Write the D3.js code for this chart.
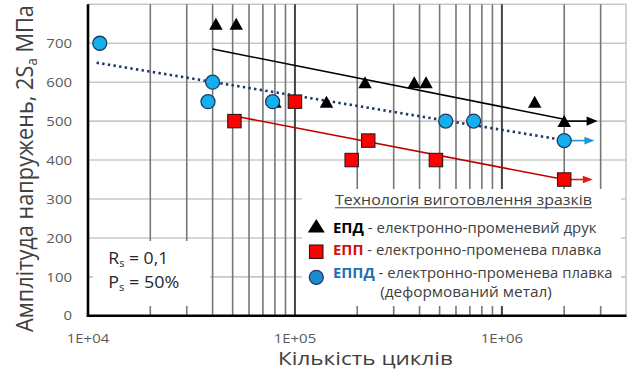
<!DOCTYPE html>
<html>
<head>
<meta charset="utf-8">
<script src="https://cdn.jsdelivr.net/npm/d3@7"></script>
<style>
  html, body { margin: 0; padding: 0; background: #fff; }
  svg { display: block; font-family: "Open Sans", "Noto Sans", sans-serif; }
</style>
</head>
<body>
<svg id="chart" width="627" height="378"></svg>
<script>
// Fatigue test results: stress amplitude vs. number of cycles
const epdN   = [4.15e4, 5.2e4, 8.0e4, 1.42e5, 2.18e5, 3.77e5, 4.3e5, 1.44e6, 2e6];
const epdS   = [750, 750, 550, 550, 600, 600, 600, 550, 500];
const eppN   = [5.1e4, 1e5, 1.88e5, 2.26e5, 4.8e5, 2e6];
const eppS   = [500, 550, 400, 450, 400, 350];
const eppdN  = [1.14e4, 3.8e4, 4e4, 7.8e4, 5.35e5, 7.3e5, 2e6];
const eppdS  = [700, 550, 600, 550, 500, 500, 450];

// Fitted trend lines (end points)
const epdTrendN  = [4e4, 2e6];   const epdTrendS  = [685, 505];
const eppTrendN  = [5e4, 2e6];   const eppTrendS  = [514, 350];
const eppdTrendN = [1.1e4, 2e6]; const eppdTrendS = [650, 451];

// Run-out specimens (no failure) shown with arrows
const runoutN   = [2e6, 2e6, 2e6];
const runoutS   = [500, 350, 450];
const runoutTip = [2.9e6, 2.75e6, 2.8e6];
const runoutColor = ["#000000", "#e31a1c", "#2394d6"];

const yTicks = [0, 100, 200, 300, 400, 500, 600, 700];
const yGrid  = [100, 200, 300, 400, 500, 600, 700];
const xMajor = [1e4, 1e5, 1e6];
const xLabels = ["1E+04", "1E+05", "1E+06"];
const xMinor = [2e4,3e4,4e4,5e4,6e4,7e4,8e4,9e4,2e5,3e5,4e5,5e5,6e5,7e5,8e5,9e5,2e6,3e6];

const svg = d3.select("#chart");
const x = d3.scaleLog().domain([1e4, 4e6]).range([88, 626.5]);
const y = d3.scaleLinear().domain([0, 800]).range([315.8, 4.3]);

const gGrid = svg.append("g");
// horizontal grid
gGrid.selectAll(".hg").data(yGrid).join("line")
  .attr("x1", x(1e4)).attr("x2", x(4e6))
  .attr("y1", d => y(d)).attr("y2", d => y(d))
  .attr("stroke", "#c8c8c8").attr("stroke-width", 1.6);
// frame top / right
gGrid.append("line").attr("x1", x(1e4)).attr("x2", x(4e6)).attr("y1", y(800)).attr("y2", y(800))
  .attr("stroke", "#c8c8c8").attr("stroke-width", 1.6);
gGrid.append("line").attr("x1", 626).attr("x2", 626).attr("y1", y(800)).attr("y2", y(0))
  .attr("stroke", "#c8c8c8").attr("stroke-width", 1.6);
// vertical grid
gGrid.selectAll(".vm").data(xMinor).join("line")
  .attr("x1", d => x(d)).attr("x2", d => x(d))
  .attr("y1", y(800)).attr("y2", y(0))
  .attr("stroke", "#777").attr("stroke-width", 1.6);
gGrid.selectAll(".vM").data(xMajor.slice(1)).join("line")
  .attr("x1", d => x(d)).attr("x2", d => x(d))
  .attr("y1", y(800)).attr("y2", y(0))
  .attr("stroke", "#444").attr("stroke-width", 2);

// white boxes behind annotations
svg.append("rect").attr("x", 93).attr("y", 241).attr("width", 117).attr("height", 65).attr("fill", "#fff");
svg.append("rect").attr("x", 302).attr("y", 189).attr("width", 319).attr("height", 117).attr("fill", "#fff");

// axes
svg.append("line").attr("x1", x(1e4)).attr("x2", x(1e4)).attr("y1", y(800)).attr("y2", y(0) + 1.2)
  .attr("stroke", "#000").attr("stroke-width", 2.6);
svg.append("line").attr("x1", x(1e4) - 1.2).attr("x2", x(4e6)).attr("y1", y(0)).attr("y2", y(0))
  .attr("stroke", "#000").attr("stroke-width", 2.6);

// helper: scale a text horizontally to a target width
function fit(sel, tx, ty, width, rotate) {
  const w = sel.node().getBBox().width;
  const s = width / w;
  sel.attr("transform", `translate(${tx},${ty})${rotate ? " rotate(-90)" : ""} scale(${s},1)`);
  return sel;
}
function stretch(sel, tx, ty, s) {
  sel.attr("transform", `translate(${tx},${ty}) scale(${s},1)`);
}

// tick labels
yTicks.forEach(v => {
  const t = svg.append("text").text(v).attr("font-size", 13).attr("fill", "#595959")
    .attr("text-anchor", "end").attr("dy", "0.36em");
  stretch(t, 72, y(v), 1.15);
});
xMajor.forEach((v, i) => {
  const t = svg.append("text").text(xLabels[i]).attr("font-size", 13).attr("fill", "#595959")
    .attr("text-anchor", "middle");
  stretch(t, x(v), 342.5, 1.15);
});

// axis titles
const xt = svg.append("text").text("Кількість циклів").attr("font-size", 17.5).attr("fill", "#404040")
  .attr("text-anchor", "middle");
fit(xt, 365.5, 365, 175, false);

const yt = svg.append("text").attr("font-size", 24.5).attr("fill", "#404040").attr("text-anchor", "middle");
yt.append("tspan").text("Амплітуда напружень, 2S");
yt.append("tspan").text("a").attr("font-size", 15).attr("dy", 4);
yt.append("tspan").text("  МПа").attr("dy", -4);
fit(yt, 33, 168.5, 327, true);

// trend lines
const line = d3.line().x(d => x(d[0])).y(d => y(d[1]));
svg.append("path").attr("d", line(d3.zip(eppdTrendN, eppdTrendS)))
  .attr("fill", "none").attr("stroke", "#1f3864").attr("stroke-width", 2.6)
  .attr("stroke-dasharray", "2.4,3.3");
svg.append("path").attr("d", line(d3.zip(epdTrendN, epdTrendS)))
  .attr("fill", "none").attr("stroke", "#000").attr("stroke-width", 1.5);
svg.append("path").attr("d", line(d3.zip(eppTrendN, eppTrendS)))
  .attr("fill", "none").attr("stroke", "#c00000").attr("stroke-width", 1.6);

// run-out arrows
runoutN.forEach((n, i) => {
  const x0 = x(n), x1 = x(runoutTip[i]), yy = y(runoutS[i]);
  const c = runoutColor[i];
  const hl = i === 0 ? 11 : 10, hw = i === 0 ? 4.6 : 3.8;
  svg.append("line").attr("x1", x0).attr("x2", x1 - hl + 1).attr("y1", yy).attr("y2", yy)
    .attr("stroke", c).attr("stroke-width", 1.6);
  svg.append("path").attr("d", `M${x1},${yy}L${x1 - hl},${yy - hw}L${x1 - hl},${yy + hw}Z`).attr("fill", c);
});

// markers
const tri = (cx, cy, w, h) => `M${cx},${cy - h / 2}L${cx + w / 2},${cy + h / 2}L${cx - w / 2},${cy + h / 2}Z`;
svg.selectAll(".tri").data(d3.zip(epdN, epdS)).join("path")
  .attr("d", d => tri(x(d[0]), y(d[1]), 13.5, 12)).attr("fill", "#000");
svg.selectAll(".sq").data(d3.zip(eppN, eppS)).join("rect")
  .attr("x", d => x(d[0]) - 6.7).attr("y", d => y(d[1]) - 6.7)
  .attr("width", 13.4).attr("height", 13.4)
  .attr("fill", "#ff0000").attr("stroke", "#2a1a1a").attr("stroke-width", 1.1);
svg.selectAll(".ci").data(d3.zip(eppdN, eppdS)).join("circle")
  .attr("cx", d => x(d[0])).attr("cy", d => y(d[1])).attr("r", 7)
  .attr("fill", "#14b0ee").attr("stroke", "#1f3864").attr("stroke-width", 1.3);

// conditions
const r1 = svg.append("text").attr("font-size", 16).attr("fill", "#262626");
r1.append("tspan").text("R");
r1.append("tspan").text("s").attr("font-size", 10).attr("dy", 3);
r1.append("tspan").text(" = 0,1").attr("dy", -3);
fit(r1, 108.3, 264.3, 60, false);
const r2 = svg.append("text").attr("font-size", 16).attr("fill", "#262626");
r2.append("tspan").text("P");
r2.append("tspan").text("s").attr("font-size", 10).attr("dy", 3);
r2.append("tspan").text(" = 50%").attr("dy", -3);
fit(r2, 108.3, 288.3, 71, false);

// legend
const lt = svg.append("text").text("Технологія виготовлення зразків").attr("font-size", 15).attr("fill", "#404040");
fit(lt, 335, 205, 257, false);
svg.append("line").attr("x1", 335).attr("x2", 592).attr("y1", 207.8).attr("y2", 207.8)
  .attr("stroke", "#404040").attr("stroke-width", 1.1);

const legendRows = [
  { code: "ЕПД",  codeColor: "#000000", text: " - електронно-променевий друк",   y: 232.7, w: 264 },
  { code: "ЕПП",  codeColor: "#d01010", text: " - електронно-променева плавка",  y: 255.3, w: 268.7 },
  { code: "ЕППД", codeColor: "#1f6fb3", text: " - електронно-променева плавка",  y: 278.3, w: 280 }
];
legendRows.forEach(r => {
  const t = svg.append("text").attr("font-size", 14.5).attr("fill", "#404040");
  t.append("tspan").text(r.code).attr("font-weight", "bold").attr("fill", r.codeColor);
  t.append("tspan").text(r.text);
  fit(t, 333, r.y, r.w, false);
});
const l4 = svg.append("text").text("(деформований метал)").attr("font-size", 14.5).attr("fill", "#404040")
  .attr("text-anchor", "middle");
fit(l4, 466, 296.5, 171.7, false);

svg.append("path").attr("d", tri(316.3, 225.8, 17, 13.5)).attr("fill", "#000");
svg.append("rect").attr("x", 309.5).attr("y", 245).attr("width", 13.5).attr("height", 13.5)
  .attr("fill", "#ff0000").attr("stroke", "#2a1a1a").attr("stroke-width", 1.1);
svg.append("circle").attr("cx", 316.3).attr("cy", 277.3).attr("r", 7)
  .attr("fill", "#1a8dd0").attr("stroke", "#1f3864").attr("stroke-width", 1.3);
</script>
</body>
</html>
